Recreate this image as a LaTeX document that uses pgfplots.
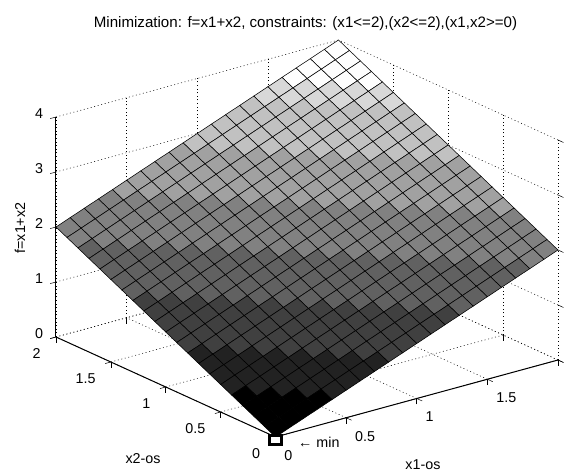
\documentclass[border=0pt]{standalone}
\usepackage{fontspec}
\setmainfont{Liberation Sans}
\usepackage{pgfplots}
\usepackage{pgfplotstable}
\pgfplotsset{compat=1.18}
\pgfplotstableread[row sep=\\]{
x y z g\\
0 0 0 0\\ 0.1 0 0.1 0\\ 0.2 0 0.2 0\\ 0.3 0 0.3 0\\ 0.4 0 0.4 34\\ 0.5 0 0.5 34\\ 0.6 0 0.6 34\\ 0.7 0 0.7 34\\ 0.8 0 0.8 64\\ 0.9 0 0.9 64\\ 1 0 1 64\\ 1.1 0 1.1 64\\ 1.2 0 1.2 64\\ 1.3 0 1.3 96\\ 1.4 0 1.4 96\\ 1.5 0 1.5 96\\ 1.6 0 1.6 96\\ 1.7 0 1.7 96\\ 1.8 0 1.8 128\\ 1.9 0 1.9 128\\ 2 0 2 128\\
0 0.1 0.1 0\\ 0.1 0.1 0.2 0\\ 0.2 0.1 0.3 0\\ 0.3 0.1 0.4 34\\ 0.4 0.1 0.5 34\\ 0.5 0.1 0.6 34\\ 0.6 0.1 0.7 34\\ 0.7 0.1 0.8 64\\ 0.8 0.1 0.9 64\\ 0.9 0.1 1 64\\ 1 0.1 1.1 64\\ 1.1 0.1 1.2 64\\ 1.2 0.1 1.3 96\\ 1.3 0.1 1.4 96\\ 1.4 0.1 1.5 96\\ 1.5 0.1 1.6 96\\ 1.6 0.1 1.7 96\\ 1.7 0.1 1.8 128\\ 1.8 0.1 1.9 128\\ 1.9 0.1 2 128\\ 2 0.1 2.1 128\\
0 0.2 0.2 0\\ 0.1 0.2 0.3 0\\ 0.2 0.2 0.4 34\\ 0.3 0.2 0.5 34\\ 0.4 0.2 0.6 34\\ 0.5 0.2 0.7 34\\ 0.6 0.2 0.8 64\\ 0.7 0.2 0.9 64\\ 0.8 0.2 1 64\\ 0.9 0.2 1.1 64\\ 1 0.2 1.2 64\\ 1.1 0.2 1.3 96\\ 1.2 0.2 1.4 96\\ 1.3 0.2 1.5 96\\ 1.4 0.2 1.6 96\\ 1.5 0.2 1.7 96\\ 1.6 0.2 1.8 128\\ 1.7 0.2 1.9 128\\ 1.8 0.2 2 128\\ 1.9 0.2 2.1 128\\ 2 0.2 2.2 128\\
0 0.3 0.3 0\\ 0.1 0.3 0.4 34\\ 0.2 0.3 0.5 34\\ 0.3 0.3 0.6 34\\ 0.4 0.3 0.7 34\\ 0.5 0.3 0.8 64\\ 0.6 0.3 0.9 64\\ 0.7 0.3 1 64\\ 0.8 0.3 1.1 64\\ 0.9 0.3 1.2 64\\ 1 0.3 1.3 96\\ 1.1 0.3 1.4 96\\ 1.2 0.3 1.5 96\\ 1.3 0.3 1.6 96\\ 1.4 0.3 1.7 96\\ 1.5 0.3 1.8 128\\ 1.6 0.3 1.9 128\\ 1.7 0.3 2 128\\ 1.8 0.3 2.1 128\\ 1.9 0.3 2.2 128\\ 2 0.3 2.3 160\\
0 0.4 0.4 34\\ 0.1 0.4 0.5 34\\ 0.2 0.4 0.6 34\\ 0.3 0.4 0.7 34\\ 0.4 0.4 0.8 64\\ 0.5 0.4 0.9 64\\ 0.6 0.4 1 64\\ 0.7 0.4 1.1 64\\ 0.8 0.4 1.2 64\\ 0.9 0.4 1.3 96\\ 1 0.4 1.4 96\\ 1.1 0.4 1.5 96\\ 1.2 0.4 1.6 96\\ 1.3 0.4 1.7 96\\ 1.4 0.4 1.8 128\\ 1.5 0.4 1.9 128\\ 1.6 0.4 2 128\\ 1.7 0.4 2.1 128\\ 1.8 0.4 2.2 128\\ 1.9 0.4 2.3 160\\ 2 0.4 2.4 160\\
0 0.5 0.5 34\\ 0.1 0.5 0.6 34\\ 0.2 0.5 0.7 34\\ 0.3 0.5 0.8 64\\ 0.4 0.5 0.9 64\\ 0.5 0.5 1 64\\ 0.6 0.5 1.1 64\\ 0.7 0.5 1.2 64\\ 0.8 0.5 1.3 96\\ 0.9 0.5 1.4 96\\ 1 0.5 1.5 96\\ 1.1 0.5 1.6 96\\ 1.2 0.5 1.7 96\\ 1.3 0.5 1.8 128\\ 1.4 0.5 1.9 128\\ 1.5 0.5 2 128\\ 1.6 0.5 2.1 128\\ 1.7 0.5 2.2 128\\ 1.8 0.5 2.3 160\\ 1.9 0.5 2.4 160\\ 2 0.5 2.5 160\\
0 0.6 0.6 34\\ 0.1 0.6 0.7 34\\ 0.2 0.6 0.8 64\\ 0.3 0.6 0.9 64\\ 0.4 0.6 1 64\\ 0.5 0.6 1.1 64\\ 0.6 0.6 1.2 64\\ 0.7 0.6 1.3 96\\ 0.8 0.6 1.4 96\\ 0.9 0.6 1.5 96\\ 1 0.6 1.6 96\\ 1.1 0.6 1.7 96\\ 1.2 0.6 1.8 128\\ 1.3 0.6 1.9 128\\ 1.4 0.6 2 128\\ 1.5 0.6 2.1 128\\ 1.6 0.6 2.2 128\\ 1.7 0.6 2.3 160\\ 1.8 0.6 2.4 160\\ 1.9 0.6 2.5 160\\ 2 0.6 2.6 160\\
0 0.7 0.7 34\\ 0.1 0.7 0.8 64\\ 0.2 0.7 0.9 64\\ 0.3 0.7 1 64\\ 0.4 0.7 1.1 64\\ 0.5 0.7 1.2 64\\ 0.6 0.7 1.3 96\\ 0.7 0.7 1.4 96\\ 0.8 0.7 1.5 96\\ 0.9 0.7 1.6 96\\ 1 0.7 1.7 96\\ 1.1 0.7 1.8 128\\ 1.2 0.7 1.9 128\\ 1.3 0.7 2 128\\ 1.4 0.7 2.1 128\\ 1.5 0.7 2.2 128\\ 1.6 0.7 2.3 160\\ 1.7 0.7 2.4 160\\ 1.8 0.7 2.5 160\\ 1.9 0.7 2.6 160\\ 2 0.7 2.7 160\\
0 0.8 0.8 64\\ 0.1 0.8 0.9 64\\ 0.2 0.8 1 64\\ 0.3 0.8 1.1 64\\ 0.4 0.8 1.2 64\\ 0.5 0.8 1.3 96\\ 0.6 0.8 1.4 96\\ 0.7 0.8 1.5 96\\ 0.8 0.8 1.6 96\\ 0.9 0.8 1.7 96\\ 1 0.8 1.8 128\\ 1.1 0.8 1.9 128\\ 1.2 0.8 2 128\\ 1.3 0.8 2.1 128\\ 1.4 0.8 2.2 128\\ 1.5 0.8 2.3 160\\ 1.6 0.8 2.4 160\\ 1.7 0.8 2.5 160\\ 1.8 0.8 2.6 160\\ 1.9 0.8 2.7 160\\ 2 0.8 2.8 192\\
0 0.9 0.9 64\\ 0.1 0.9 1 64\\ 0.2 0.9 1.1 64\\ 0.3 0.9 1.2 64\\ 0.4 0.9 1.3 96\\ 0.5 0.9 1.4 96\\ 0.6 0.9 1.5 96\\ 0.7 0.9 1.6 96\\ 0.8 0.9 1.7 96\\ 0.9 0.9 1.8 128\\ 1 0.9 1.9 128\\ 1.1 0.9 2 128\\ 1.2 0.9 2.1 128\\ 1.3 0.9 2.2 128\\ 1.4 0.9 2.3 160\\ 1.5 0.9 2.4 160\\ 1.6 0.9 2.5 160\\ 1.7 0.9 2.6 160\\ 1.8 0.9 2.7 160\\ 1.9 0.9 2.8 192\\ 2 0.9 2.9 192\\
0 1 1 64\\ 0.1 1 1.1 64\\ 0.2 1 1.2 64\\ 0.3 1 1.3 96\\ 0.4 1 1.4 96\\ 0.5 1 1.5 96\\ 0.6 1 1.6 96\\ 0.7 1 1.7 96\\ 0.8 1 1.8 128\\ 0.9 1 1.9 128\\ 1 1 2 128\\ 1.1 1 2.1 128\\ 1.2 1 2.2 128\\ 1.3 1 2.3 160\\ 1.4 1 2.4 160\\ 1.5 1 2.5 160\\ 1.6 1 2.6 160\\ 1.7 1 2.7 160\\ 1.8 1 2.8 192\\ 1.9 1 2.9 192\\ 2 1 3 192\\
0 1.1 1.1 64\\ 0.1 1.1 1.2 64\\ 0.2 1.1 1.3 96\\ 0.3 1.1 1.4 96\\ 0.4 1.1 1.5 96\\ 0.5 1.1 1.6 96\\ 0.6 1.1 1.7 96\\ 0.7 1.1 1.8 128\\ 0.8 1.1 1.9 128\\ 0.9 1.1 2 128\\ 1 1.1 2.1 128\\ 1.1 1.1 2.2 128\\ 1.2 1.1 2.3 160\\ 1.3 1.1 2.4 160\\ 1.4 1.1 2.5 160\\ 1.5 1.1 2.6 160\\ 1.6 1.1 2.7 160\\ 1.7 1.1 2.8 192\\ 1.8 1.1 2.9 192\\ 1.9 1.1 3 192\\ 2 1.1 3.1 192\\
0 1.2 1.2 64\\ 0.1 1.2 1.3 96\\ 0.2 1.2 1.4 96\\ 0.3 1.2 1.5 96\\ 0.4 1.2 1.6 96\\ 0.5 1.2 1.7 96\\ 0.6 1.2 1.8 128\\ 0.7 1.2 1.9 128\\ 0.8 1.2 2 128\\ 0.9 1.2 2.1 128\\ 1 1.2 2.2 128\\ 1.1 1.2 2.3 160\\ 1.2 1.2 2.4 160\\ 1.3 1.2 2.5 160\\ 1.4 1.2 2.6 160\\ 1.5 1.2 2.7 160\\ 1.6 1.2 2.8 192\\ 1.7 1.2 2.9 192\\ 1.8 1.2 3 192\\ 1.9 1.2 3.1 192\\ 2 1.2 3.2 192\\
0 1.3 1.3 96\\ 0.1 1.3 1.4 96\\ 0.2 1.3 1.5 96\\ 0.3 1.3 1.6 96\\ 0.4 1.3 1.7 96\\ 0.5 1.3 1.8 128\\ 0.6 1.3 1.9 128\\ 0.7 1.3 2 128\\ 0.8 1.3 2.1 128\\ 0.9 1.3 2.2 128\\ 1 1.3 2.3 160\\ 1.1 1.3 2.4 160\\ 1.2 1.3 2.5 160\\ 1.3 1.3 2.6 160\\ 1.4 1.3 2.7 160\\ 1.5 1.3 2.8 192\\ 1.6 1.3 2.9 192\\ 1.7 1.3 3 192\\ 1.8 1.3 3.1 192\\ 1.9 1.3 3.2 192\\ 2 1.3 3.3 214\\
0 1.4 1.4 96\\ 0.1 1.4 1.5 96\\ 0.2 1.4 1.6 96\\ 0.3 1.4 1.7 96\\ 0.4 1.4 1.8 128\\ 0.5 1.4 1.9 128\\ 0.6 1.4 2 128\\ 0.7 1.4 2.1 128\\ 0.8 1.4 2.2 128\\ 0.9 1.4 2.3 160\\ 1 1.4 2.4 160\\ 1.1 1.4 2.5 160\\ 1.2 1.4 2.6 160\\ 1.3 1.4 2.7 160\\ 1.4 1.4 2.8 192\\ 1.5 1.4 2.9 192\\ 1.6 1.4 3 192\\ 1.7 1.4 3.1 192\\ 1.8 1.4 3.2 192\\ 1.9 1.4 3.3 214\\ 2 1.4 3.4 214\\
0 1.5 1.5 96\\ 0.1 1.5 1.6 96\\ 0.2 1.5 1.7 96\\ 0.3 1.5 1.8 128\\ 0.4 1.5 1.9 128\\ 0.5 1.5 2 128\\ 0.6 1.5 2.1 128\\ 0.7 1.5 2.2 128\\ 0.8 1.5 2.3 160\\ 0.9 1.5 2.4 160\\ 1 1.5 2.5 160\\ 1.1 1.5 2.6 160\\ 1.2 1.5 2.7 160\\ 1.3 1.5 2.8 192\\ 1.4 1.5 2.9 192\\ 1.5 1.5 3 192\\ 1.6 1.5 3.1 192\\ 1.7 1.5 3.2 192\\ 1.8 1.5 3.3 214\\ 1.9 1.5 3.4 214\\ 2 1.5 3.5 252\\
0 1.6 1.6 96\\ 0.1 1.6 1.7 96\\ 0.2 1.6 1.8 128\\ 0.3 1.6 1.9 128\\ 0.4 1.6 2 128\\ 0.5 1.6 2.1 128\\ 0.6 1.6 2.2 128\\ 0.7 1.6 2.3 160\\ 0.8 1.6 2.4 160\\ 0.9 1.6 2.5 160\\ 1 1.6 2.6 160\\ 1.1 1.6 2.7 160\\ 1.2 1.6 2.8 192\\ 1.3 1.6 2.9 192\\ 1.4 1.6 3 192\\ 1.5 1.6 3.1 192\\ 1.6 1.6 3.2 192\\ 1.7 1.6 3.3 214\\ 1.8 1.6 3.4 214\\ 1.9 1.6 3.5 252\\ 2 1.6 3.6 252\\
0 1.7 1.7 96\\ 0.1 1.7 1.8 128\\ 0.2 1.7 1.9 128\\ 0.3 1.7 2 128\\ 0.4 1.7 2.1 128\\ 0.5 1.7 2.2 128\\ 0.6 1.7 2.3 160\\ 0.7 1.7 2.4 160\\ 0.8 1.7 2.5 160\\ 0.9 1.7 2.6 160\\ 1 1.7 2.7 160\\ 1.1 1.7 2.8 192\\ 1.2 1.7 2.9 192\\ 1.3 1.7 3 192\\ 1.4 1.7 3.1 192\\ 1.5 1.7 3.2 192\\ 1.6 1.7 3.3 214\\ 1.7 1.7 3.4 214\\ 1.8 1.7 3.5 252\\ 1.9 1.7 3.6 252\\ 2 1.7 3.7 252\\
0 1.8 1.8 128\\ 0.1 1.8 1.9 128\\ 0.2 1.8 2 128\\ 0.3 1.8 2.1 128\\ 0.4 1.8 2.2 128\\ 0.5 1.8 2.3 160\\ 0.6 1.8 2.4 160\\ 0.7 1.8 2.5 160\\ 0.8 1.8 2.6 160\\ 0.9 1.8 2.7 160\\ 1 1.8 2.8 192\\ 1.1 1.8 2.9 192\\ 1.2 1.8 3 192\\ 1.3 1.8 3.1 192\\ 1.4 1.8 3.2 192\\ 1.5 1.8 3.3 214\\ 1.6 1.8 3.4 214\\ 1.7 1.8 3.5 252\\ 1.8 1.8 3.6 252\\ 1.9 1.8 3.7 252\\ 2 1.8 3.8 252\\
0 1.9 1.9 128\\ 0.1 1.9 2 128\\ 0.2 1.9 2.1 128\\ 0.3 1.9 2.2 128\\ 0.4 1.9 2.3 160\\ 0.5 1.9 2.4 160\\ 0.6 1.9 2.5 160\\ 0.7 1.9 2.6 160\\ 0.8 1.9 2.7 160\\ 0.9 1.9 2.8 192\\ 1 1.9 2.9 192\\ 1.1 1.9 3 192\\ 1.2 1.9 3.1 192\\ 1.3 1.9 3.2 192\\ 1.4 1.9 3.3 214\\ 1.5 1.9 3.4 214\\ 1.6 1.9 3.5 252\\ 1.7 1.9 3.6 252\\ 1.8 1.9 3.7 252\\ 1.9 1.9 3.8 252\\ 2 1.9 3.9 252\\
0 2 2 128\\ 0.1 2 2.1 128\\ 0.2 2 2.2 128\\ 0.3 2 2.3 160\\ 0.4 2 2.4 160\\ 0.5 2 2.5 160\\ 0.6 2 2.6 160\\ 0.7 2 2.7 160\\ 0.8 2 2.8 192\\ 0.9 2 2.9 192\\ 1 2 3 192\\ 1.1 2 3.1 192\\ 1.2 2 3.2 192\\ 1.3 2 3.3 214\\ 1.4 2 3.4 214\\ 1.5 2 3.5 252\\ 1.6 2 3.6 252\\ 1.7 2 3.7 252\\ 1.8 2 3.8 252\\ 1.9 2 3.9 252\\ 2 2 4 252\\
}\surfdata
\newcommand{\lblfont}{\fontsize{14.3}{16}\selectfont}
\begin{document}
\begin{tikzpicture}[x=1pt,y=1pt]
\path[use as bounding box] (-275.5,-34) rectangle (292.5,437);
\begin{axis}[
  anchor=origin, at={(0pt,0pt)},
  x={(141.25pt,38.5pt)}, y={(-109.75pt,50pt)}, z={(0pt,55pt)},
  xmin=0,xmax=2,ymin=0,ymax=2,zmin=0,zmax=4,
  clip=false,
  axis line style={draw=none},
  grid=major,
  grid style={black,line width=0.5pt,dash pattern=on 1pt off 2.6pt},
  xtick={0,0.5,1,1.5,2}, xticklabels={0,0.5,1,1.5,{}},
  ytick={0,0.5,1,1.5,2}, yticklabels={0,0.5,1,1.5,2},
  ztick={0,1,2,3,4}, zticklabels={0,1,2,3,4},
  tick pos=lower,
  tick align=outside,
  major tick length=6pt,
  tick style={black,line width=0.5pt},
  tick label style={font=\lblfont},
  x tick label style={anchor=west,yshift=-16pt},
  y tick label style={anchor=east,xshift=-6pt,yshift=-15pt},
  z tick label style={xshift=-4pt},
  title={Minimization: f=x1+x2, constraints: (x1<=2),(x2<=2),(x1,x2>=0)},
  title style={at={(axis cs:0.2124,0,7.252)},anchor=center,yshift=0pt,font=\fontsize{15.1}{17}\selectfont},
  xlabel={x1-os}, ylabel={x2-os}, zlabel={f=x1+x2},
  xlabel style={at={(axis cs:1.044,0,-1.225)},anchor=center,inner sep=0pt,font=\lblfont},
  ylabel style={at={(axis cs:-0.938,0,0.26)},anchor=center,inner sep=0pt,font=\lblfont},
  zlabel style={at={(axis cs:-1.809,0,5.066)},anchor=center,inner sep=0pt,font=\lblfont},
  colormap={bw}{gray(0cm)=(0); gray(1cm)=(1)},
  point meta min=0, point meta max=255,
]
\addplot3[surf, shader=flat corner, draw=black, line width=0.55pt,
  mesh/rows=21, point meta=explicit]
  table[x=x,y=y,z=z,meta=g] {\surfdata};
\addplot3[black,line width=1pt,forget plot] coordinates {(0,0,0)(2,0,0)};
\addplot3[black,line width=1pt,forget plot] coordinates {(0,0,0)(0,2,0)};
\addplot3[black,line width=1pt,forget plot] coordinates {(0,2,0)(0,2,4)};
\addplot3[only marks,mark=square*,mark size=5pt,
  mark options={draw=black,fill=white,line width=3pt,xscale=1.15,yscale=0.9,yshift=-3pt},forget plot]
  coordinates {(0,0,0)};
\node[anchor=west,inner sep=0pt,font=\lblfont] at (axis cs:0.159,0,-0.207) {← min};
\end{axis}
\end{tikzpicture}
\end{document}
